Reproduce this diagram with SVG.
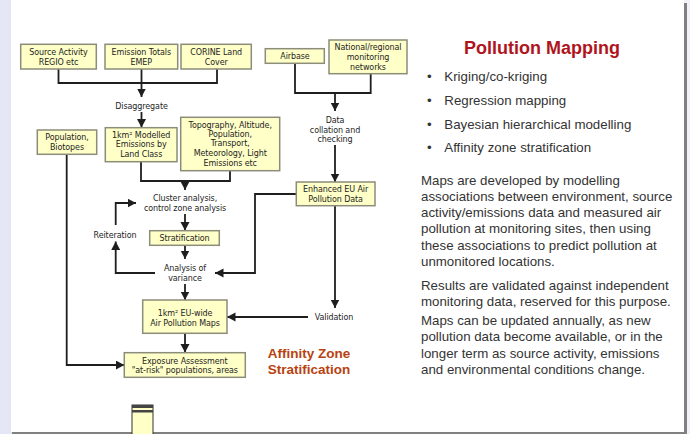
<svg xmlns="http://www.w3.org/2000/svg" width="690" height="434" viewBox="0 0 690 434">
<defs>
<linearGradient id="bgL" x1="0" y1="0" x2="1" y2="0">
<stop offset="0" stop-color="#e4e6f6"/><stop offset="1" stop-color="#f0f1fa"/>
</linearGradient>
<marker id="ah" markerUnits="userSpaceOnUse" markerWidth="10" markerHeight="10" refX="8.5" refY="4.5" orient="auto">
<path d="M0,0 L8.5,4.5 L0,9 z" fill="#1e1e1e"/>
</marker>
<style>
.box{fill:#ffffc8;stroke:#8c8c7a;stroke-width:1.5}
.t{font-family:"DejaVu Sans",Verdana,sans-serif;font-size:8px;fill:#1e1e1e;text-anchor:middle;letter-spacing:-0.1px}
.c{fill:none;stroke:#1e1e1e;stroke-width:1.8}
.a{marker-end:url(#ah)}
.body{font-family:"Liberation Sans",Arial,sans-serif;font-size:13.3px;fill:#333}
.ttl{font-family:"Liberation Sans",Arial,sans-serif;font-size:18px;font-weight:bold;fill:#b0141c;text-anchor:middle}
.az{font-family:"Liberation Sans",Arial,sans-serif;font-size:13.5px;font-weight:bold;fill:#b8420f;text-anchor:middle}
</style>
</defs>
<rect x="0" y="0" width="690" height="434" fill="url(#bgL)"/>
<rect x="11" y="0" width="673" height="432" fill="#ffffff"/>
<rect x="684" y="3" width="3" height="431" fill="#808080"/>
<rect x="12" y="432" width="675" height="2" fill="#808080"/>

<g id="connectors">
<path class="c" d="M58.5,69 V83 H217 V69"/>
<path class="c a" d="M141.5,69 V97"/>
<path class="c a" d="M141.5,112 V127.5"/>
<path class="c" d="M141,162 V181 H230 V171"/>
<path class="c a" d="M185,181 V190"/>
<path class="c a" d="M185,214 V230.5"/>
<path class="c a" d="M185,245.5 V259"/>
<path class="c a" d="M155,273 H115.7 V241.5"/>
<path class="c a" d="M115.7,225 V203 H136"/>
<path class="c a" d="M296.3,194 H255 V273 H215"/>
<path class="c" d="M295,63.5 V93 H370.7 V74"/>
<path class="c a" d="M335,93 V111"/>
<path class="c a" d="M335,145 V182"/>
<path class="c a" d="M335,205.7 V308"/>
<path class="c a" d="M308,317 H227"/>
<path class="c a" d="M185,284 V300"/>
<path class="c a" d="M185,333.3 V352.5"/>
<path class="c a" d="M66.7,154.3 V365 H124.3"/>
</g>

<g id="source-activity"><rect class="box" x="20.7" y="44.3" width="75.6" height="24.7"/>
<text class="t" x="58.5" y="55">Source Activity</text><text class="t" x="58.5" y="64.7">REGIO etc</text></g>
<g id="emission-totals"><rect class="box" x="105" y="44.3" width="72.7" height="24.7"/>
<text class="t" x="141.3" y="55">Emission Totals</text><text class="t" x="141.3" y="64.7">EMEP</text></g>
<g id="corine"><rect class="box" x="181" y="44.3" width="70.3" height="24.7"/>
<text class="t" x="216.2" y="55">CORINE Land</text><text class="t" x="216.2" y="64.7">Cover</text></g>
<g id="airbase"><rect class="box" x="265.3" y="48.7" width="59" height="14.6"/>
<text class="t" x="295" y="58.8">Airbase</text></g>
<g id="national"><rect class="box" x="329" y="40" width="78" height="33.7"/>
<text class="t" x="368" y="50">National/regional</text><text class="t" x="368" y="60">monitoring</text><text class="t" x="368" y="70">networks</text></g>
<g id="disaggregate"><text class="t" x="141.5" y="108.7">Disaggregate</text></g>
<g id="population"><rect class="box" x="37.3" y="130" width="59.4" height="24.3"/>
<text class="t" x="67" y="140">Population,</text><text class="t" x="67" y="149.8">Biotopes</text></g>
<g id="modelled-emissions"><rect class="box" x="105.3" y="127.7" width="71.7" height="34"/>
<text class="t" x="141.2" y="137.5">1km² Modelled</text><text class="t" x="141.2" y="147">Emissions by</text><text class="t" x="141.2" y="156.5">Land Class</text></g>
<g id="topography"><rect class="box" x="180.7" y="117.3" width="99" height="53.4"/>
<text class="t" x="230.2" y="127.7">Topography, Altitude,</text><text class="t" x="230.2" y="137">Population,</text><text class="t" x="230.2" y="146.2">Transport,</text><text class="t" x="230.2" y="156">Meteorology, Light</text><text class="t" x="230.2" y="166">Emissions etc</text></g>
<g id="data-collation"><text class="t" x="335" y="123.4">Data</text><text class="t" x="335" y="132.7">collation and</text><text class="t" x="335" y="141.8">checking</text></g>
<g id="enhanced-eu"><rect class="box" x="296.3" y="182" width="78.7" height="23.7"/>
<text class="t" x="335.6" y="191.8">Enhanced EU Air</text><text class="t" x="335.6" y="201.7">Pollution Data</text></g>
<g id="cluster-analysis"><text class="t" x="185" y="201">Cluster analysis,</text><text class="t" x="185" y="211">control zone analysis</text></g>
<g id="stratification"><rect class="box" x="149.7" y="230.7" width="69.6" height="14.6"/>
<text class="t" x="184.5" y="240.8">Stratification</text></g>
<g id="reiteration"><text class="t" x="115" y="238">Reiteration</text></g>
<g id="analysis-variance"><text class="t" x="185" y="271.4">Analysis of</text><text class="t" x="185" y="280.8">variance</text></g>
<g id="validation"><text class="t" x="334" y="320">Validation</text></g>
<g id="eu-maps"><rect class="box" x="142.7" y="300" width="84.3" height="33.3"/>
<text class="t" x="185" y="316">1km² EU-wide</text><text class="t" x="185" y="325.5">Air Pollution Maps</text></g>
<g id="exposure"><rect class="box" x="124.3" y="352.7" width="121" height="24.6"/>
<text class="t" x="184.8" y="363.7">Exposure Assessment</text><text class="t" x="184.8" y="372.8">"at-risk" populations, areas</text></g>

<g id="affinity-title"><text class="az" x="309" y="358">Affinity Zone</text><text class="az" x="309" y="374">Stratification</text></g>

<g id="bottom-object">
<rect x="132" y="405" width="21" height="30" fill="#ffffc8" stroke="#333" stroke-width="1"/>
<rect x="132" y="405" width="21" height="3" fill="#444"/>
<rect x="132" y="410" width="21" height="2.5" fill="#444"/>
</g>

<g id="text-panel">
<text class="ttl" x="542" y="54">Pollution Mapping</text>
<g class="body">
<text x="427" y="80.5">•</text><text x="444.3" y="80.5">Kriging/co-kriging</text>
<text x="427" y="104.5">•</text><text x="444.3" y="104.5">Regression mapping</text>
<text x="427" y="128.5">•</text><text x="444.3" y="128.5">Bayesian hierarchical modelling</text>
<text x="427" y="152">•</text><text x="444.3" y="152">Affinity zone stratification</text>
<text x="421" y="184.5">Maps are developed by modelling</text>
<text x="421" y="200.8">associations between environment, source</text>
<text x="421" y="217.1">activity/emissions data and measured air</text>
<text x="421" y="233.4">pollution at monitoring sites, then using</text>
<text x="421" y="249.7">these associations to predict pollution at</text>
<text x="421" y="266">unmonitored locations.</text>
<text x="421" y="289.5">Results are validated against independent</text>
<text x="421" y="305.8">monitoring data, reserved for this purpose.</text>
<text x="421" y="325">Maps can be updated annually, as new</text>
<text x="421" y="341.3">pollution data become available, or in the</text>
<text x="421" y="357.6">longer term as source activity, emissions</text>
<text x="421" y="373.9">and environmental conditions change.</text>
</g>
</g>
</svg>
